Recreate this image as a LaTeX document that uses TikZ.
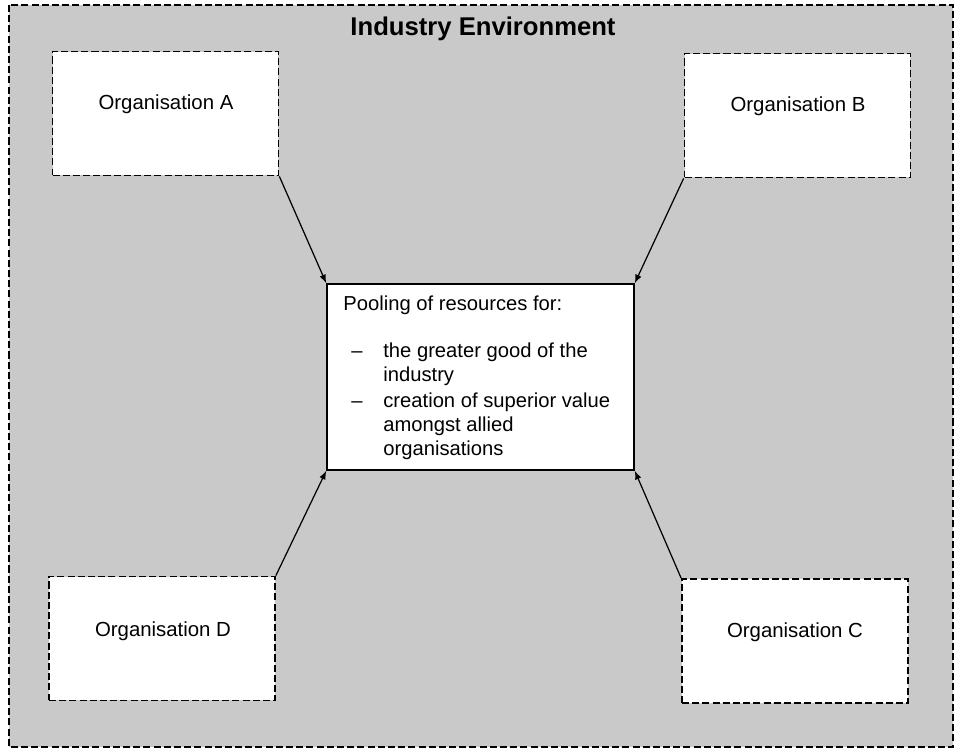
\documentclass[tikz,border=0pt]{standalone}
\usepackage{fontspec}
\setmainfont{Liberation Sans}
\usetikzlibrary{positioning}

\tikzset{
  orgbox/.style={draw, fill=white, line width=1pt, dash pattern=on 4pt off 1.8pt,
    minimum width=4.52cm, minimum height=2.48cm},
  orgtext/.style={anchor=base, font=\fontsize{11.6}{14}\selectfont},
  pooltext/.style={anchor=base west, font=\fontsize{11.5}{14}\selectfont, inner sep=0pt},
  link/.style={-latex, line width=0.7pt}
}

\begin{document}
\begin{tikzpicture}[x=0.02cm, y=-0.02cm]
    \useasboundingbox (0,0) rectangle (957,751);

    % Industry environment
    \draw[fill=black!21, line width=1pt, dash pattern=on 4pt off 1.8pt] (9,5) rectangle (953,747);
    \node[anchor=base, font=\bfseries\fontsize{14.6}{17}\selectfont] (title) at (483,35) {Industry Environment};

    % Organisations
    \foreach \n/\x/\y/\tx/\ty in {A/165.5/113.5/166/109, B/797.5/115.5/798/111, C/795/641/795/637, D/162/638.5/163/636} {
      \node[orgbox] (org\n) at (\x,\y) {};
      \node[orgtext] (lab\n) at (\tx,\ty) {Organisation \n};
    }

    % Pooling of resources
    \node[draw, fill=white, line width=0.9pt, minimum width=6.14cm, minimum height=3.72cm] (pool) at (480.5,377) {};
    \node[pooltext] (head) at (343,310) {Pooling of resources for:};
    \foreach \y/\t in {357/{the greater good of the}, 381/industry, 407/{creation of superior value}, 431/{amongst allied}, 455/organisations} {
      \node[pooltext] at (383,\y) {\t};
    }
    \node[pooltext] (dashA) at (351,357) {--};
    \node[pooltext] (dashB) at (351,407) {--};

    % Links
    \draw[link] (orgA.south east) -- (pool.north west);
    \draw[link] (orgB.south west) -- (pool.north east);
    \draw[link] (orgC.north west) -- (pool.south east);
    \draw[link] (orgD.north east) -- (pool.south west);
\end{tikzpicture}
\end{document}
